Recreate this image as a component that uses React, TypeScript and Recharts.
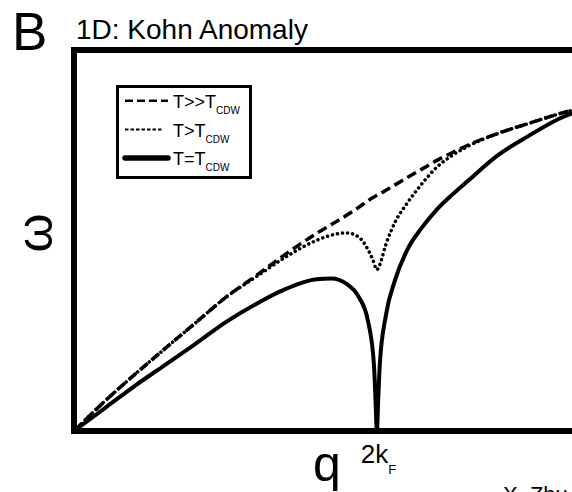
import React from "react";
import { LineChart, Line, XAxis, YAxis, ReferenceLine, Legend } from "recharts";

const FONT = "'Liberation Sans', Arial, Helvetica, sans-serif";

// wave vector q in units of 2k_F
const Q = [0, 0.1, 0.2, 0.3, 0.4, 0.5, 0.6, 0.7, 0.8, 0.85, 0.9, 0.94, 0.97, 0.99, 0.995, 1.0, 1.005, 1.01, 1.03, 1.06, 1.1, 1.15, 1.2, 1.25, 1.3, 1.4, 1.5, 1.6, 1.75];
// phonon energy (arbitrary units)
const OMEGA_FAR = [0, 0.077, 0.148, 0.216, 0.283, 0.35, 0.407, 0.465, 0.518, 0.542, 0.566, 0.587, 0.604, 0.614, 0.616, 0.619, 0.621, 0.623, 0.632, 0.646, 0.665, 0.688, 0.711, 0.731, 0.75, 0.781, 0.807, 0.832, 0.862];
const OMEGA_NEAR = [0, 0.077, 0.148, 0.216, 0.283, 0.35, 0.404, 0.457, 0.5, 0.514, 0.52, 0.509, 0.477, 0.442, 0.43, 0.423, 0.428, 0.437, 0.49, 0.548, 0.598, 0.65, 0.694, 0.724, 0.747, 0.781, 0.807, 0.832, 0.862];
const OMEGA_CDW = [0, 0.059, 0.118, 0.173, 0.228, 0.285, 0.333, 0.373, 0.398, 0.4, 0.386, 0.352, 0.291, 0.178, 0.094, 0, 0.094, 0.178, 0.304, 0.396, 0.475, 0.535, 0.583, 0.621, 0.656, 0.724, 0.774, 0.819, 0.86];

const rows = Q.map((q, i) => ({
  q,
  far: OMEGA_FAR[i],
  near: OMEGA_NEAR[i],
  cdw: OMEGA_CDW[i],
}));

const SERIES = [
  { key: "far", main: "T>>T", sub: "CDW", width: 3.5, dash: "10 5", cap: "butt", legWidth: 2.5, legDash: "8 4", legEnd: 49 },
  { key: "near", main: "T>T", sub: "CDW", width: 3.5, dash: "0.1 5", cap: "round", legWidth: 2, legDash: "3.5 2", legEnd: 43 },
  { key: "cdw", main: "T=T", sub: "CDW", width: 4, dash: undefined, cap: "round", legWidth: 5.5, legDash: undefined, legEnd: 49 },
];

function KfLabel(props: any) {
  const { viewBox } = props;
  const x = viewBox.x;
  const y = viewBox.y + viewBox.height;
  return (
    <text x={x - 16} y={y + 32} fontSize={26} fontFamily={FONT} fill="#000">
      2k
      <tspan fontSize={13} dy={11}>F</tspan>
    </text>
  );
}

function KohnLegend() {
  return (
    <div
      style={{
        width: 136,
        height: 94,
        boxSizing: "border-box",
        border: "3px solid #000",
        background: "#fff",
      }}
    >
      <svg width={130} height={88} style={{ display: "block" }}>
        {SERIES.map((s, i) => {
          const yLine = 12.7 + i * 28.7;
          const yText = 20 + i * 28.5;
          return (
            <g key={s.key}>
              <line
                x1={6}
                x2={s.legEnd}
                y1={yLine}
                y2={yLine}
                stroke="#000"
                strokeWidth={s.legWidth}
                strokeDasharray={s.legDash}
                strokeLinecap={s.key === "cdw" ? "round" : "butt"}
              />
              <text x={54} y={yText} fontSize={18} fontFamily={FONT} fill="#000">
                {s.main}
                <tspan fontSize={10} dy={6}>{s.sub}</tspan>
              </text>
            </g>
          );
        })}
      </svg>
    </div>
  );
}

export default function App() {
  return (
    <div
      style={{
        position: "fixed",
        left: 0,
        top: 0,
        width: 572,
        height: 492,
        overflow: "hidden",
        background: "#fff",
        fontFamily: FONT,
        color: "#000",
      }}
    >
      <LineChart width={640} height={492} data={rows} margin={{ top: 50, right: 36, bottom: 61, left: 74 }}>
        <XAxis dataKey="q" type="number" domain={[0, 1.75]} hide />
        <YAxis type="number" domain={[0, 1]} hide />
        {SERIES.map((s) => (
          <Line
            key={s.key}
            dataKey={s.key}
            type="monotone"
            stroke="#000"
            strokeWidth={s.width}
            strokeDasharray={s.dash}
            strokeLinecap={s.cap as any}
            dot={false}
            activeDot={false}
            isAnimationActive={false}
          />
        ))}
        <ReferenceLine y={1} stroke="#000" strokeWidth={6} strokeLinecap="square" />
        <ReferenceLine y={0} stroke="#000" strokeWidth={6} strokeLinecap="square" />
        <ReferenceLine x={0} stroke="#000" strokeWidth={6} strokeLinecap="square" />
        <ReferenceLine x={1} stroke="none" label={<KfLabel />} />
        <Legend
          layout="horizontal"
          verticalAlign="middle"
          align="center"
          content={() => <KohnLegend />}
          wrapperStyle={{ left: 116, top: 85, width: 136, height: 94 }}
        />
      </LineChart>

      <div style={{ position: "absolute", left: 12, top: 5, fontSize: 53, lineHeight: 1 }}>B</div>
      <div style={{ position: "absolute", left: 76, top: 16, fontSize: 28, lineHeight: 1, whiteSpace: "nowrap" }}>
        1D: Kohn Anomaly
      </div>
      <div
        style={{
          position: "absolute",
          left: 35,
          top: 233,
          fontSize: 50,
          lineHeight: 1,
          transform: "translate(-50%, -50%) rotate(-90deg)",
        }}
      >
        ω
      </div>
      <div style={{ position: "absolute", left: 313, top: 439, fontSize: 50, lineHeight: 1 }}>q</div>
      <div style={{ position: "absolute", left: 503, top: 484, fontSize: 22, lineHeight: 1, whiteSpace: "nowrap" }}>
        X. Zhu
      </div>
    </div>
  );
}
